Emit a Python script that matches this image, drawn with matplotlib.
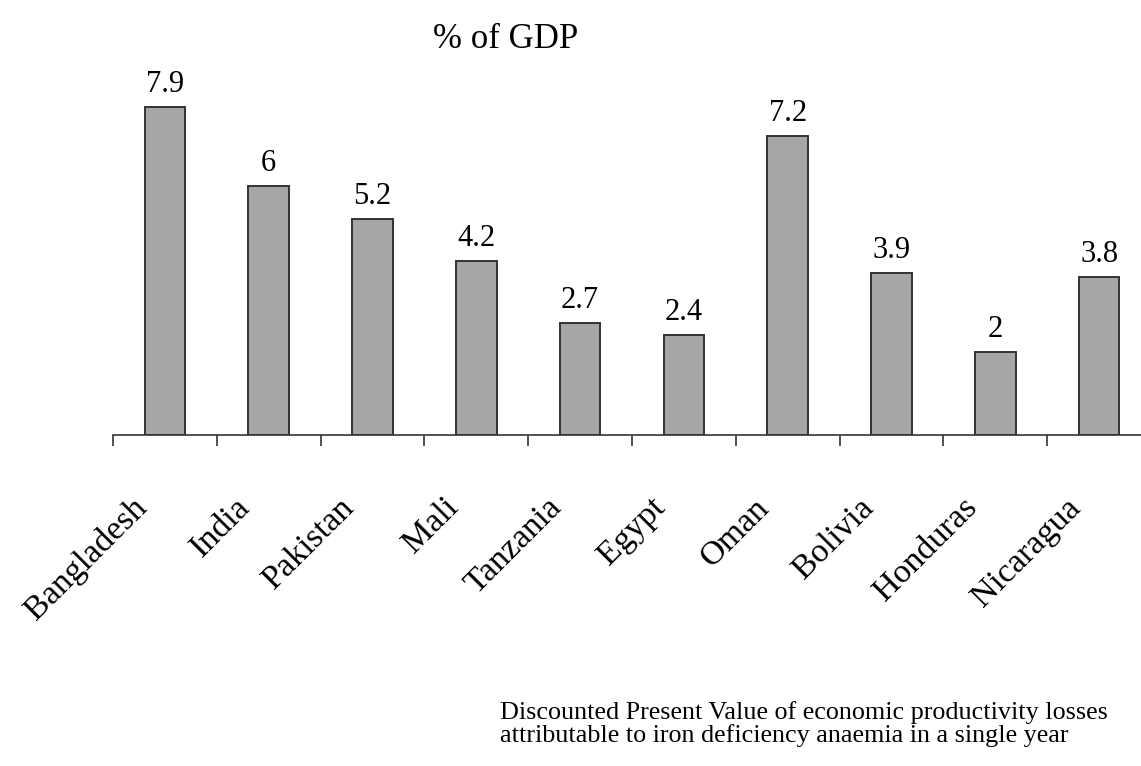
import numpy as np
import matplotlib
matplotlib.use("Agg")
import matplotlib.pyplot as plt
import matplotlib.transforms as mtransforms

countries = ["Bangladesh", "India", "Pakistan", "Mali", "Tanzania",
             "Egypt", "Oman", "Bolivia", "Honduras", "Nicaragua"]
gdp_loss = [7.9, 6, 5.2, 4.2, 2.7, 2.4, 7.2, 3.9, 2, 3.8]
value_labels = ["7.9", "6", "5.2", "4.2", "2.7", "2.4", "7.2", "3.9", "2", "3.8"]

plt.rcParams["font.family"] = ["Liberation Serif", "DejaVu Serif"]

W, H = 1141, 766
fig = plt.figure(figsize=(W / 100, H / 100), dpi=100)

# axes placed in pixel terms: baseline at y=435, first tick at x=113, spacing ~104 px
x0, x1 = 113, 113 + 10 * 103.8
y_base, y_top = 435, 435 - 8 * 41.5
ax = fig.add_axes([x0 / W, 1 - y_base / H, (x1 - x0) / W, (y_base - y_top) / H])

x = np.arange(len(countries))
ax.bar(x, gdp_loss, width=0.39, color="#a6a6a6", edgecolor="#333333", linewidth=1.4)

for xi, v, lab in zip(x, gdp_loss, value_labels):
    ax.text(xi, v + 0.36, lab, ha="center", va="baseline", fontsize=22)

ax.set_xlim(-0.5, len(countries) - 0.5)
ax.set_ylim(0, 8)

for s in ["left", "right", "top"]:
    ax.spines[s].set_visible(False)
ax.spines["bottom"].set_color("#333333")
ax.spines["bottom"].set_linewidth(1.2)
ax.set_yticks([])

ax.set_xticks(x)
ax.set_xticklabels(countries, rotation=45, ha="right", va="center",
                   rotation_mode="anchor", fontsize=24.5)
ax.tick_params(axis="x", which="major", length=0, pad=49)
shift = mtransforms.ScaledTranslation(-23 / 100, 0, fig.dpi_scale_trans)
for lbl in ax.get_xticklabels():
    lbl.set_transform(lbl.get_transform() + shift)
ax.set_xticks(np.arange(-0.5, len(countries)), minor=True)
ax.tick_params(axis="x", which="minor", length=8, width=1.2, color="#333333")

fig.text(506 / W, 1 - 39 / H, "% of GDP", ha="center", va="center", fontsize=25)
fig.text(500 / W, 1 - 724 / H,
         "Discounted Present Value of economic productivity losses\n"
         "attributable to iron deficiency anaemia in a single year",
         ha="left", va="center", fontsize=18.8, linespacing=1.0)

fig.savefig("out.png", dpi=100)
